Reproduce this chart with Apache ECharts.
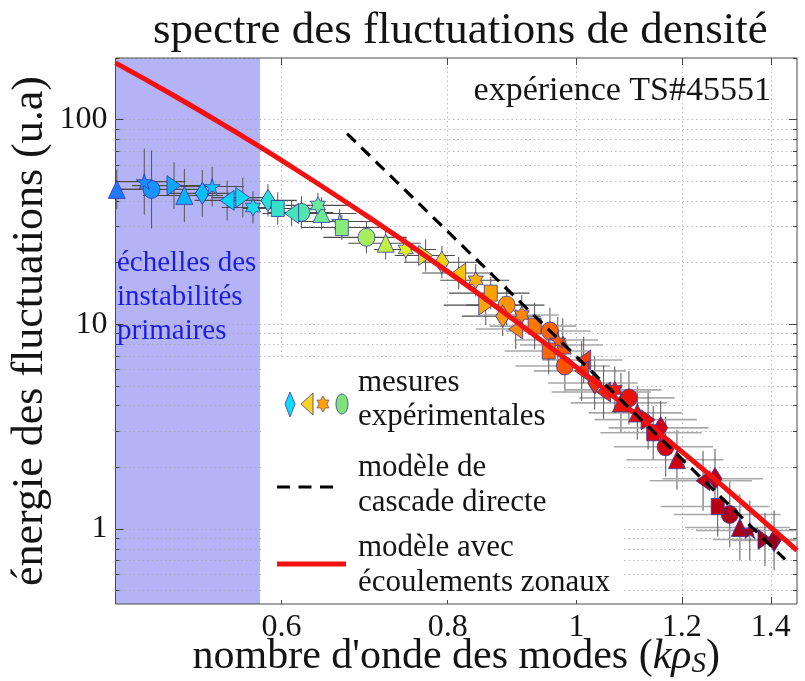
<!DOCTYPE html>
<html>
<head>
<meta charset="utf-8">
<script src="https://cdn.jsdelivr.net/npm/echarts@6/dist/echarts.min.js"></script>
<style>
  html, body { margin: 0; padding: 0; background: #ffffff; }
  #chart { width: 805px; height: 681px; }
</style>
</head>
<body>
<div id="chart"></div>
<script>
// Measured spectrum points, one list per marker type: [k·rho_s, energy, half-width in k, energy error factor]
const triUp = [
  [0.451, 45.6, 0.030, 1.25], [0.507, 42.6, 0.035, 1.35], [0.643, 34.8, 0.040, 1.20],
  [0.7185, 24.9, 0.045, 1.20], [0.9765, 7.92, 0.070, 1.35], [1.080, 4.13, 0.090, 1.40],
  [1.111, 3.69, 0.090, 1.35], [1.190, 2.18, 0.100, 1.40], [1.327, 1.017, 0.120, 1.45]
];
const circles = [
  [0.479, 45.6, 0.040, 1.55], [0.621, 35.2, 0.035, 1.20], [0.695, 26.6, 0.050, 1.20],
  [0.886, 12.4, 0.060, 1.25], [0.955, 9.27, 0.070, 1.30], [0.980, 6.26, 0.080, 1.35],
  [1.095, 4.37, 0.090, 1.35], [1.167, 2.52, 0.100, 1.40], [1.304, 1.177, 0.120, 1.45]
];
const triRight = [
  [0.498, 47.6, 0.035, 1.30], [0.561, 41.6, 0.030, 1.25], [0.770, 21.7, 0.040, 1.20],
  [0.8545, 12.4, 0.060, 1.25], [1.132, 3.42, 0.100, 1.40], [1.386, 0.889, 0.120, 1.35]
];
const diamonds = [
  [0.523, 43.6, 0.030, 1.30], [0.586, 40.3, 0.030, 1.20], [0.792, 20.1, 0.050, 1.20],
  [0.880, 10.96, 0.060, 1.25], [1.032, 5.17, 0.080, 1.35], [1.157, 3.12, 0.100, 1.35],
  [1.271, 1.76, 0.110, 1.40], [1.408, 0.879, 0.100, 1.40]
];
const stars = [
  [0.473, 49.8, 0.035, 1.45], [0.532, 47.1, 0.030, 1.25], [0.6635, 31.8, 0.045, 1.15],
  [0.968, 8.38, 0.070, 1.30], [1.350, 0.983, 0.120, 1.40]
];
const triLeft = [
  [0.546, 40.3, 0.030, 1.25], [0.6105, 34.8, 0.030, 1.15], [0.8154, 17.8, 0.050, 1.20],
  [0.900, 9.48, 0.060, 1.25], [1.0125, 6.69, 0.070, 1.30], [1.009, 5.92, 0.080, 1.40],
  [1.048, 4.67, 0.090, 1.35], [1.245, 1.72, 0.110, 1.40]
];
const hexagrams = [
  [0.571, 37.2, 0.030, 1.20], [0.639, 38.1, 0.035, 1.15], [0.744, 23.2, 0.040, 1.15],
  [0.8398, 16.4, 0.050, 1.20], [0.9095, 11.1, 0.060, 1.25], [1.0685, 4.78, 0.090, 1.30]
];
const squares = [
  [0.596, 36.8, 0.035, 1.20], [0.666, 29.7, 0.045, 1.15], [0.862, 14.2, 0.060, 1.20],
  [0.930, 9.80, 0.070, 1.30], [0.953, 7.40, 0.070, 1.30], [1.142, 2.95, 0.100, 1.35],
  [1.277, 1.287, 0.120, 1.40]
];

// Model curves
const zonalFlowModel = [
  [0.45, 189.3], [0.50, 129.0], [0.55, 89.5], [0.60, 63.2], [0.70, 32.9], [0.80, 18.08],
  [0.90, 10.35], [1.00, 6.16], [1.10, 3.78], [1.20, 2.386], [1.30, 1.542], [1.40, 1.018], [1.465, 0.786]
];
const directCascadeModel = [[0.672, 85.4], [1.435, 0.71]];

// Band of the primary instability scales
const primaryBand = [0.45, 0.578];

// Axes
const kRange = [0.45, 1.465];
const energyRange = [0.43, 200];
const kTicks = [0.6, 0.8, 1, 1.2, 1.4];
const energyTicks = [1, 10, 100];
const energyMinorTicks = [0.5, 0.6, 0.7, 0.8, 0.9, 2, 3, 4, 5, 6, 7, 8, 9,
  20, 30, 40, 50, 60, 70, 80, 90, 200];

const SERIF = '"Liberation Serif", "DejaVu Serif", serif';
const INK = '#141414';
const GRID_DOTS = { color: '#a6a6a6', type: [1.5, 3], width: 1, opacity: 0.75 };

const P = {
  triRight: 'path://M0,0 L10,5 L0,10 Z',
  triLeft: 'path://M10,0 L0,5 L10,10 Z',
  star: 'path://M50,0 L61,35 L98,35 L68,57 L79,91 L50,70 L21,91 L32,57 L2,35 L39,35 Z',
  hexagram: 'path://M50,0 L64.4,25 L93.3,25 L78.9,50 L93.3,75 L64.4,75 L50,100 L35.6,75 L6.7,75 L21.1,50 L6.7,25 L35.6,25 Z'
};

const markerSets = [
  { name: 'triUp', data: triUp, symbol: 'triangle', size: [17, 18] },
  { name: 'circles', data: circles, symbol: 'circle', size: [17, 18] },
  { name: 'triRight', data: triRight, symbol: P.triRight, size: [14, 20] },
  { name: 'diamonds', data: diamonds, symbol: 'diamond', size: [14, 22] },
  { name: 'stars', data: stars, symbol: P.star, size: [16, 16] },
  { name: 'triLeft', data: triLeft, symbol: P.triLeft, size: [14, 20] },
  { name: 'hexagrams', data: hexagrams, symbol: P.hexagram, size: [15, 17] },
  { name: 'squares', data: squares, symbol: 'rect', size: [13, 16] }
];

const allPoints = [].concat(...markerSets.map(s => s.data));

function logAxis(pos, range, opts) {
  return Object.assign({
    type: 'log', logBase: 10, position: pos, min: range[0], max: range[1],
    axisLine: { show: false },
    axisTick: { show: true, inside: true, length: 7, lineStyle: { color: '#444', width: 1 } },
    axisLabel: { show: false },
    splitLine: { show: false },
    minorTick: { show: false }, minorSplitLine: { show: false }
  }, opts);
}

const chart = echarts.init(document.getElementById('chart'), null, { renderer: 'canvas' });

const scatterSeries = markerSets.map(s => ({
  type: 'scatter', name: s.name, data: s.data, symbol: s.symbol, symbolSize: s.size,
  clip: false, z: 3,
  itemStyle: { borderColor: '#3636a0', borderWidth: 0.8, opacity: 1 }
}));

const option = {
  animation: false,
  backgroundColor: '#ffffff',
  title: {
    text: 'spectre des fluctuations de densité',
    left: 148, top: 4,
    textStyle: { fontFamily: SERIF, fontSize: 45, fontWeight: 'normal', color: INK }
  },
  grid: {
    left: 115.5, right: 8, top: 58, bottom: 77,
    outerBoundsMode: 'none', containLabel: false,
    show: true, borderColor: '#4a4a4a', borderWidth: 1, backgroundColor: 'transparent'
  },
  xAxis: [
    logAxis('bottom', kRange, {
      axisTick: { show: true, inside: true, length: 7, customValues: kTicks, lineStyle: { color: '#444' } },
      axisLabel: { show: true, customValues: kTicks, formatter: v => String(v), fontFamily: SERIF, fontSize: 32, color: INK, margin: 8 },
      splitLine: { show: true, lineStyle: GRID_DOTS },
      name: "nombre d'onde des modes ({i|kρ}{s|S})",
      nameLocation: 'middle', nameGap: 31, nameMoveOverlap: false,
      nameTextStyle: {
        fontFamily: SERIF, fontSize: 42, color: INK, lineHeight: 44, verticalAlign: 'top',
        rich: {
          i: { fontFamily: SERIF, fontSize: 42, fontStyle: 'italic', color: INK, lineHeight: 44 },
          s: { fontFamily: SERIF, fontSize: 29, fontStyle: 'italic', color: INK, lineHeight: 44, padding: [14, 0, 0, 0] }
        }
      }
    }),
    logAxis('top', kRange, {
      axisTick: { show: true, inside: true, length: 7, customValues: kTicks, lineStyle: { color: '#444' } }
    })
  ],
  yAxis: [
    logAxis('left', energyRange, {
      axisTick: { show: true, inside: true, length: 8, customValues: energyTicks, lineStyle: { color: '#444' } },
      axisLabel: { show: true, customValues: energyTicks, formatter: v => String(v), fontFamily: SERIF, fontSize: 32, color: INK, margin: 8 },
      splitLine: { show: true, lineStyle: GRID_DOTS },
      name: 'énergie des fluctuations (u.a)',
      nameLocation: 'middle', nameGap: 63, nameRotate: 90, nameMoveOverlap: false,
      nameTextStyle: { fontFamily: SERIF, fontSize: 44, color: INK }
    }),
    logAxis('left', energyRange, {
      axisTick: { show: true, inside: true, length: 4, customValues: energyMinorTicks, lineStyle: { color: '#444' } },
      splitLine: { show: true, lineStyle: GRID_DOTS }
    }),
    logAxis('right', energyRange, {
      axisTick: { show: true, inside: true, length: 8, customValues: energyTicks, lineStyle: { color: '#444' } }
    }),
    logAxis('right', energyRange, {
      axisTick: { show: true, inside: true, length: 4, customValues: energyMinorTicks, lineStyle: { color: '#444' } }
    })
  ],
  visualMap: {
    type: 'continuous', show: false, dimension: 0, min: 0.45, max: 1.45,
    seriesIndex: scatterSeries.map((s, i) => i + 2),
    inRange: { color: ['#1e78ff', '#00d8ff', '#74ec8c', '#e4f024', '#ffaa00', '#ff6a00', '#f22000', '#dc0010', '#c00012', '#a20018', '#8e0020'] }
  },
  series: [
    {
      // shaded band: primary instability scales, kept under the grid lines
      type: 'line', data: [], z: -2, zlevel: 0, silent: true,
      markArea: {
        silent: true, z: -2,
        itemStyle: { color: '#b3b3f6', opacity: 1 },
        data: [[{ xAxis: primaryBand[0] }, { xAxis: primaryBand[1] }]]
      }
    },
    {
      // error bars
      type: 'custom', data: allPoints, z: 2, clip: true,
      renderItem(params, api) {
        const k = api.value(0), e = api.value(1), dk = api.value(2), f = api.value(3);
        const l = api.coord([k - dk, e]), r = api.coord([k + dk, e]);
        const t = api.coord([k, e * f]), b = api.coord([k, e / f]);
        return {
          type: 'group',
          children: [
            { type: 'line', shape: { x1: l[0], y1: l[1], x2: r[0], y2: r[1] },
              style: { stroke: k < 0.9 ? '#4c4c4c' : '#a9a9a9', lineWidth: k < 0.9 ? 1.1 : 1.6 } },
            { type: 'line', shape: { x1: t[0], y1: t[1], x2: b[0], y2: b[1] },
              style: { stroke: '#555555', lineWidth: 1 } }
          ]
        };
      }
    },
    ...scatterSeries,
    {
      type: 'line', name: 'zonal', data: zonalFlowModel, smooth: true, showSymbol: false, z: 5,
      lineStyle: { color: '#f41010', width: 5 }
    },
    {
      type: 'line', name: 'cascade', data: directCascadeModel, showSymbol: false, z: 6,
      lineStyle: { color: '#000000', width: 3.2, type: [12, 8] }
    }
  ],
  graphic: [
    { type: 'text', right: 34, top: 74, z: 10,
      style: { text: 'expérience TS#45551', font: '34px ' + SERIF, fill: INK } },
    { type: 'text', left: 117, top: 246, z: 10,
      style: { text: 'échelles des\ninstabilités\nprimaires', font: '29px ' + SERIF, fill: '#1d1de0', lineHeight: 34 } },
    // legend panel
    { type: 'rect', shape: { x: 263, y: 358, width: 360, height: 242 }, z: 1, silent: true,
      style: { fill: '#ffffff' } },
    { type: 'polygon', shape: { points: [[290, 392], [295, 404], [290, 417], [285, 404]] }, z: 10,
      style: { fill: '#10dcff', stroke: '#3636a0', lineWidth: 0.8 } },
    { type: 'polygon', shape: { points: [[313, 393], [301, 404], [313, 415]] }, z: 10,
      style: { fill: '#ffd21e', stroke: '#3636a0', lineWidth: 0.8 } },
    { type: 'polygon', shape: { points: [[323, 396], [325.5, 400], [329, 400], [327, 404], [329, 408], [325.5, 408], [323, 412], [320.5, 408], [317, 408], [319, 404], [317, 400], [320.5, 400]] }, z: 10,
      style: { fill: '#ffa000', stroke: '#3636a0', lineWidth: 0.6 } },
    { type: 'ellipse', shape: { cx: 342, cy: 404, rx: 6, ry: 10 }, z: 10,
      style: { fill: '#80e27a', stroke: '#3636a0', lineWidth: 0.8 } },
    { type: 'text', left: 358, top: 366, z: 10,
      style: { text: 'mesures\nexpérimentales', font: '31px ' + SERIF, fill: INK, lineHeight: 34 } },
    { type: 'line', shape: { x1: 277, y1: 487, x2: 337, y2: 487 }, z: 10,
      style: { stroke: '#000', lineWidth: 3, lineDash: [13, 8.5] } },
    { type: 'text', left: 358, top: 450, z: 10,
      style: { text: 'modèle de\ncascade directe', font: '31px ' + SERIF, fill: INK, lineHeight: 35 } },
    { type: 'line', shape: { x1: 277, y1: 564, x2: 346, y2: 564 }, z: 10,
      style: { stroke: '#f41010', lineWidth: 5 } },
    { type: 'text', left: 358, top: 530, z: 10,
      style: { text: 'modèle avec\nécoulements zonaux', font: '31px ' + SERIF, fill: INK, lineHeight: 35 } }
  ]
};

chart.setOption(option);
</script>
</body>
</html>
